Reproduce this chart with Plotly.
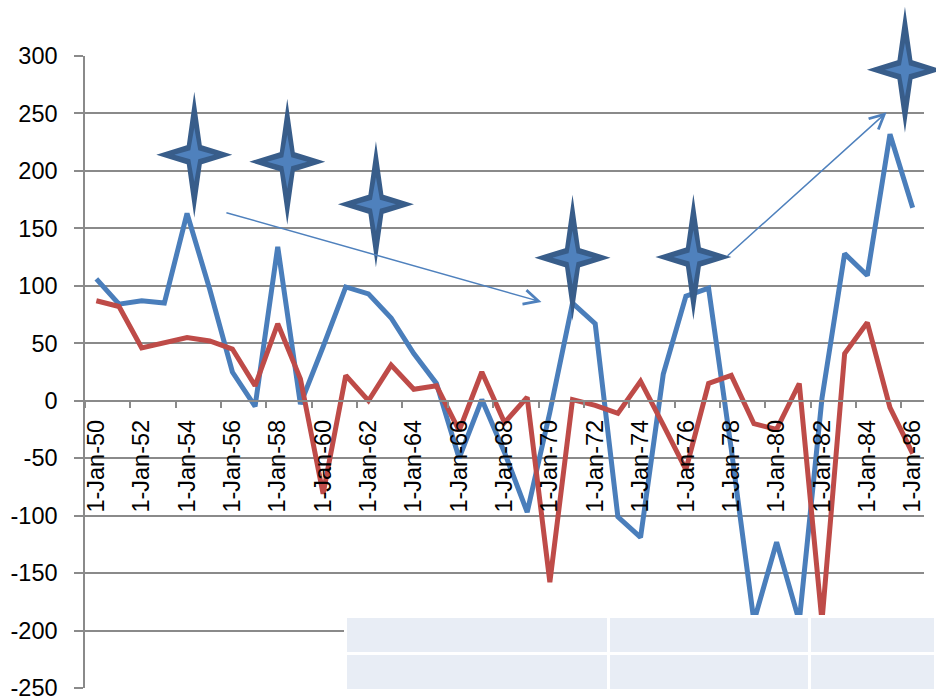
import plotly.graph_objects as go

# ---------------- data ----------------
dates = ["1-Jan-50", "1-Jan-51", "1-Jan-52", "1-Jan-53", "1-Jan-54", "1-Jan-55",
         "1-Jan-56", "1-Jan-57", "1-Jan-58", "1-Jan-59", "1-Jan-60", "1-Jan-61",
         "1-Jan-62", "1-Jan-63", "1-Jan-64", "1-Jan-65", "1-Jan-66", "1-Jan-67",
         "1-Jan-68", "1-Jan-69", "1-Jan-70", "1-Jan-71", "1-Jan-72", "1-Jan-73",
         "1-Jan-74", "1-Jan-75", "1-Jan-76", "1-Jan-77", "1-Jan-78", "1-Jan-79",
         "1-Jan-80", "1-Jan-81", "1-Jan-82", "1-Jan-83", "1-Jan-84", "1-Jan-85",
         "1-Jan-86"]

series_blue = [106, 84, 87, 85, 163, 97, 25, -5, 134, -3,
               47, 99, 93, 72, 41, 15, -50, 1, -45, -97,
               -10, 85, 67, -101, -119, 23, 91, 98, -42, -192,
               -123, -192, 2, 128, 109, 232, 168]

series_red = [87, 82, 46, 50, 55, 52, 45, 13, 67, 19,
              -81, 22, 0, 31, 10, 13, -26, 25, -19, 3,
              -158, 1, -4, -11, 17, -21, -60, 15, 22, -20,
              -25, 15, -192, 41, 68, -6, -46]

y_tick_values = [-250, -200, -150, -100, -50, 0, 50, 100, 150, 200, 250, 300]
y_tick_text = ["-250", "-200", "-150", "-100", "-50", "0", "50", "100", "150",
               "200", "250", "300"]

# star markers: (category index, value) of their centres
star_centres = [(4.32, 214), (8.42, 208), (12.33, 171), (21.0, 124.5),
                (26.33, 125), (35.66, 288)]

# arrows: (tail idx, tail value) -> (head idx, head value)
arrow_lines = [((5.67, 164), (19.63, 86)), ((27.77, 125), (34.85, 251))]

# ---------------- geometry ----------------
W, H = 936, 696
ML, MT = 85, 56
PLOT_W = W - ML
PLOT_H = H - MT
XAX_END = 924
YAX_BOTTOM = 688
y_range = [-250, 300]
x_range = [-0.5, len(dates) - 0.5]

GRID = "#8a8a8a"
BLUE = "#4a7ebb"
RED = "#be4b48"
STAR_DARK = "#385d8a"
STAR_LIGHT = "#4f81bd"
TABLE_FILL = "#e8edf5"
FONT = "Liberation Sans"
FSIZE = 23.5


def px_x(idx):
    return ML + (idx - x_range[0]) / (x_range[1] - x_range[0]) * (XAX_END - ML)


def px_y(v):
    return MT + (y_range[1] - v) / (y_range[1] - y_range[0]) * (YAX_BOTTOM - MT)


def paper_x(px):
    return (px - ML) / PLOT_W


def paper_y(py):
    return (H - py) / PLOT_H


def star_path(cx, cy, hw, hh, ix, iy):
    pts = [(cx, cy - hh), (cx + ix, cy - iy), (cx + hw, cy), (cx + ix, cy + iy),
           (cx, cy + hh), (cx - ix, cy + iy), (cx - hw, cy), (cx - ix, cy - iy)]
    s = "M" + " L".join(f"{paper_x(x):.5f},{paper_y(y):.5f}" for x, y in pts) + " Z"
    return s


fig = go.Figure()

fig.add_trace(go.Scatter(x=dates, y=series_blue, mode="lines",
                         line=dict(color=BLUE, width=5), showlegend=False,
                         hoverinfo="skip"))
fig.add_trace(go.Scatter(x=dates, y=series_red, mode="lines",
                         line=dict(color=RED, width=5), showlegend=False,
                         hoverinfo="skip"))

fig.add_trace(go.Table(
    domain=dict(x=[paper_x(345.5), 1], y=[0, paper_y(616.5)]),
    columnwidth=[263, 201, 126],
    header=dict(values=["", "", ""], fill_color=TABLE_FILL,
                line=dict(color="white", width=3), height=37),
    cells=dict(values=[[""], [""], [""]], fill_color=TABLE_FILL,
               line=dict(color="white", width=3), height=37),
))

shapes = []
for (ci, cv) in star_centres:
    cx, cy = px_x(ci), px_y(cv)
    shapes.append(dict(type="path", xref="paper", yref="paper",
                       path=star_path(cx, cy, 38, 63, 7.5, 9.5),
                       fillcolor=STAR_DARK, line=dict(width=0), layer="above"))
    shapes.append(dict(type="path", xref="paper", yref="paper",
                       path=star_path(cx, cy, 20, 27, 4.0, 4.5),
                       fillcolor=STAR_LIGHT, line=dict(width=0), layer="above"))

annotations = []
for (ti, tv), (hi, hv) in arrow_lines:
    tx, ty = px_x(ti), px_y(tv)
    hx, hy = px_x(hi), px_y(hv)
    annotations.append(dict(xref="paper", yref="paper", x=paper_x(hx), y=paper_y(hy),
                            ax=tx - hx, ay=ty - hy, text="", showarrow=True,
                            arrowhead=5, arrowsize=1.9, arrowwidth=1.5,
                            arrowcolor=STAR_LIGHT, standoff=0, startstandoff=0))

fig.update_layout(
    width=W, height=H,
    margin=dict(l=ML, r=0, t=MT, b=0, pad=0, autoexpand=False),
    paper_bgcolor="white", plot_bgcolor="white",
    font=dict(family=FONT, size=FSIZE, color="black"),
    shapes=shapes, annotations=annotations,
    xaxis=dict(type="category", domain=[0, (XAX_END - ML) / PLOT_W],
               range=x_range, anchor="free", automargin=False,
               position=paper_y(px_y(0)),
               tickmode="linear", tick0=0, dtick=2, tickson="boundaries",
               ticks="outside", ticklen=7, tickwidth=1.5, tickcolor=GRID,
               showline=True, linecolor=GRID, linewidth=1.5,
               showgrid=False, zeroline=False, tickangle=-90,
               ticklabelstandoff=9,
               tickfont=dict(family=FONT, size=FSIZE, color="black")),
    yaxis=dict(domain=[(H - YAX_BOTTOM) / PLOT_H, 1], range=y_range,
               automargin=False,
               tickmode="array", tickvals=y_tick_values, ticktext=y_tick_text,
               ticks="outside", ticklen=9, tickwidth=1.5, tickcolor=GRID,
               showline=True, linecolor=GRID, linewidth=1.5,
               showgrid=True, gridcolor=GRID, gridwidth=1.5, zeroline=False,
               ticklabelstandoff=12, ticklabeloverflow="allow",
               tickfont=dict(family=FONT, size=FSIZE, color="black")),
)

fig.write_html("out.html", config={"displayModeBar": False},
               post_script="document.body.style.margin='0';document.body.style.overflow='hidden';")
